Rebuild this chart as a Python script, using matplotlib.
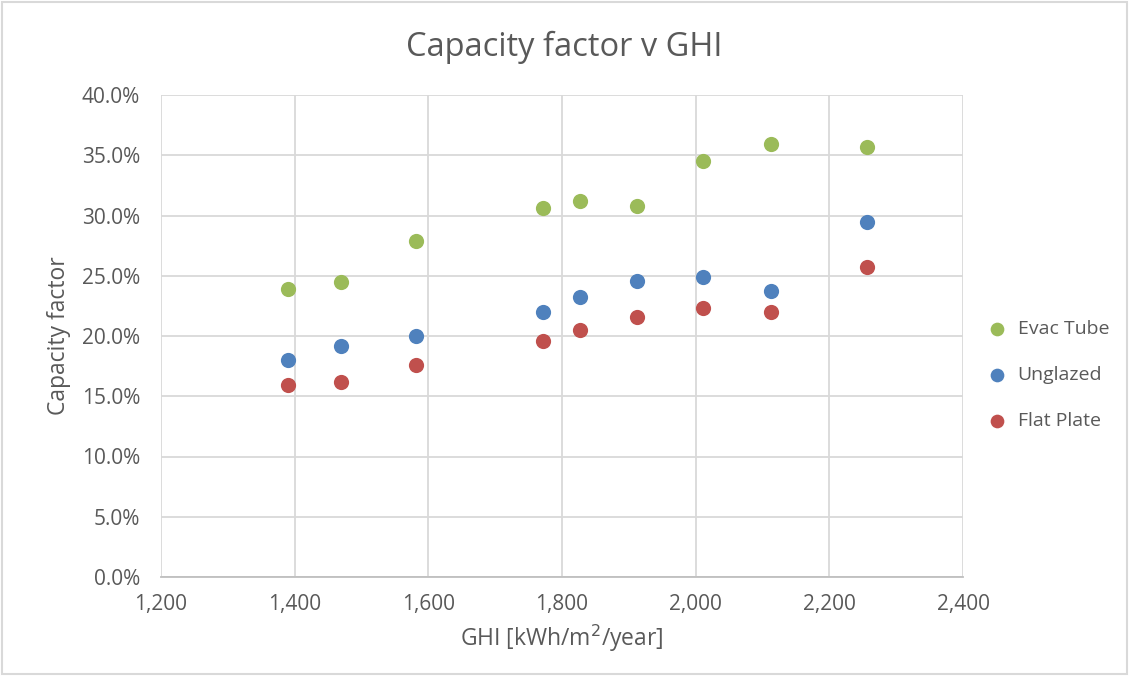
import matplotlib
matplotlib.use("Agg")
import matplotlib.pyplot as plt
from matplotlib.ticker import FuncFormatter, MultipleLocator
from matplotlib.patches import Rectangle

plt.rcParams['font.family'] = ['Open Sans', 'DejaVu Sans']

ghi = [1390, 1470, 1582, 1772, 1827, 1912, 2011, 2113, 2256]
evac_tube = [23.9, 24.5, 27.9, 30.6, 31.2, 30.8, 34.5, 35.9, 35.7]
unglazed = [18.0, 19.2, 20.0, 22.0, 23.2, 24.6, 24.9, 23.7, 29.5]
flat_plate = [15.9, 16.2, 17.6, 19.6, 20.5, 21.6, 22.3, 22.0, 25.7]

series = [("Evac Tube", evac_tube, "#9BBB59"),
          ("Unglazed", unglazed, "#4F81BD"),
          ("Flat Plate", flat_plate, "#C0504D")]

txt = "#595959"
fig = plt.figure(figsize=(11.29, 6.76), dpi=100)
ax = fig.add_axes([161/1129, 1-577/676, (963-161)/1129, (577-95)/676])

for name, vals, col in series:
    ax.scatter(ghi, vals, s=120, color=col, label=name, zorder=3, linewidths=0)

ax.set_xlim(1200, 2400)
ax.set_ylim(0, 40)
ax.xaxis.set_major_locator(MultipleLocator(200))
ax.yaxis.set_major_locator(MultipleLocator(5))
ax.xaxis.set_major_formatter(FuncFormatter(lambda v, p: f"{int(v):,}"))
ax.yaxis.set_major_formatter(FuncFormatter(lambda v, p: f"{v:.1f}%"))
ax.grid(True, color="#D9D9D9", linewidth=1.3)
ax.set_axisbelow(True)
for s in ["top", "right", "left"]:
    ax.spines[s].set_visible(False)
ax.spines["bottom"].set_color("#BFBFBF")
ax.spines["bottom"].set_linewidth(1.3)
ax.tick_params(length=0, labelsize=15, colors=txt)
ax.tick_params(axis="y", pad=15)
ax.tick_params(axis="x", pad=12)

ax.set_xlabel("GHI [kWh/m$^2$/year]", fontsize=16.5, color=txt, labelpad=6)
ax.set_ylabel("Capacity factor", fontsize=16.5, color=txt, labelpad=8)
fig.text(0.5, 1-47/676, "Capacity factor v GHI", ha="center", va="center",
         fontsize=23.5, color=txt)

leg = ax.legend(loc="center left", bbox_to_anchor=(970/1129, 1-375/676),
                bbox_transform=fig.transFigure, frameon=False, fontsize=14,
                handletextpad=0.05, labelspacing=1.45, markerscale=0.9,
                borderaxespad=0)
for t in leg.get_texts():
    t.set_color(txt)

fig.patches.append(Rectangle((0.002, 0.003), 0.996, 0.994, transform=fig.transFigure,
                             fill=False, edgecolor="#D9D9D9", linewidth=1.5))
fig.savefig("out.png", dpi=100)
